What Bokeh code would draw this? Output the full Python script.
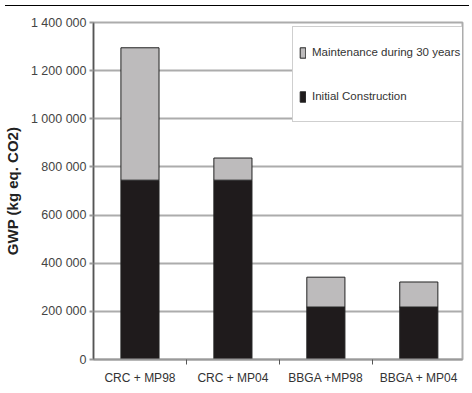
from bokeh.plotting import figure
from bokeh.models import (ColumnDataSource, Range1d, FixedTicker, Legend, LegendItem, Div)
from bokeh.layouts import column
from bokeh.embed import file_html
from bokeh.resources import INLINE

# ---- data ----
categories = ["CRC + MP98", "CRC + MP04", "BBGA +MP98", "BBGA + MP04"]
initial_construction = [745000, 745000, 218000, 218000]
maintenance_30y = [550000, 92000, 124000, 104000]
y_ticks = [0, 200000, 400000, 600000, 800000, 1000000, 1200000, 1400000]
y_tick_labels = ["0", "200 000", "400 000", "600 000", "800 000", "1 000 000", "1 200 000", "1 400 000"]
series_names = ["Initial Construction", "Maintenance during 30 years"]

xpos = list(range(1, len(categories) + 1))
src = ColumnDataSource(dict(
    x=xpos,
    initial=initial_construction,
    maint=maintenance_30y,
))

FONT = "Liberation Sans"

p = figure(width=464, height=376, output_backend="svg", toolbar_location=None,
           x_range=Range1d(0.5, 4.47), y_range=Range1d(0, 1400000),
           min_border_left=82, min_border_right=2, min_border_top=11, min_border_bottom=22)

r = p.vbar_stack(["initial", "maint"], x="x", width=0.41, source=src,
                 color=["#1f1b1c", "#bdbbbc"], line_color="#222222", line_width=1)

# axes
p.xaxis.ticker = FixedTicker(ticks=xpos, minor_ticks=[1.5, 2.5, 3.5])
p.xaxis.major_label_overrides = {i + 1: c for i, c in enumerate(categories)}
p.xaxis.major_tick_out = 0
p.xaxis.major_tick_in = 0
p.xaxis.minor_tick_out = 5
p.xaxis.minor_tick_in = 0
p.xaxis.minor_tick_line_color = "#555555"
p.xaxis.axis_line_color = "#9a9a9a"
p.xaxis.axis_line_width = 2
p.xaxis.major_label_text_font = FONT
p.xaxis.major_label_text_font_size = "12px"
p.xaxis.major_label_text_color = "#333333"
p.xaxis.major_label_standoff = 6

p.yaxis.ticker = FixedTicker(ticks=y_ticks, minor_ticks=[])
p.yaxis.major_label_overrides = {t: l for t, l in zip(y_ticks, y_tick_labels)}
p.yaxis.major_tick_out = 4
p.yaxis.major_tick_in = 0
p.yaxis.major_tick_line_color = "#9a9a9a"
p.yaxis.major_tick_line_width = 2
p.yaxis.axis_line_color = "#555555"
p.yaxis.axis_line_width = 1.5
p.yaxis.major_label_text_font = FONT
p.yaxis.major_label_text_font_size = "12.5px"
p.yaxis.major_label_text_color = "#444444"
p.yaxis.major_label_standoff = 3
p.yaxis.axis_label = "GWP (kg eq. CO2)"
p.yaxis.axis_label_text_font = "Liberation Sans"
p.yaxis.axis_label_text_font_style = "bold"
p.yaxis.axis_label_text_font_size = "15px"
p.yaxis.axis_label_text_color = "#222222"
p.yaxis.axis_label_standoff = 7

p.xgrid.visible = False
p.ygrid.grid_line_color = "#acacac"
p.ygrid.grid_line_width = 2
p.ygrid.ticker = FixedTicker(ticks=y_ticks)

p.outline_line_color = "#acacac"
p.outline_line_width = 2

legend = Legend(items=[LegendItem(label=series_names[1], renderers=[r[1]]),
                       LegendItem(label=series_names[0], renderers=[r[0]])],
                location=(199, 237), orientation="vertical",
                glyph_width=7, glyph_height=13, label_height=38, spacing=6, padding=6,
                label_standoff=6,
                label_text_font=FONT, label_text_font_size="11.5px", label_text_color="#333333",
                border_line_color="#a0a0a0", border_line_width=1.5,
                background_fill_color="white", background_fill_alpha=1)
p.add_layout(legend, "center")

topline = Div(text="", width=464, height=1, styles={"background-color": "black"})
layout = column(topline, p, spacing=0)

open("out.html", "w").write(file_html(layout, INLINE))
